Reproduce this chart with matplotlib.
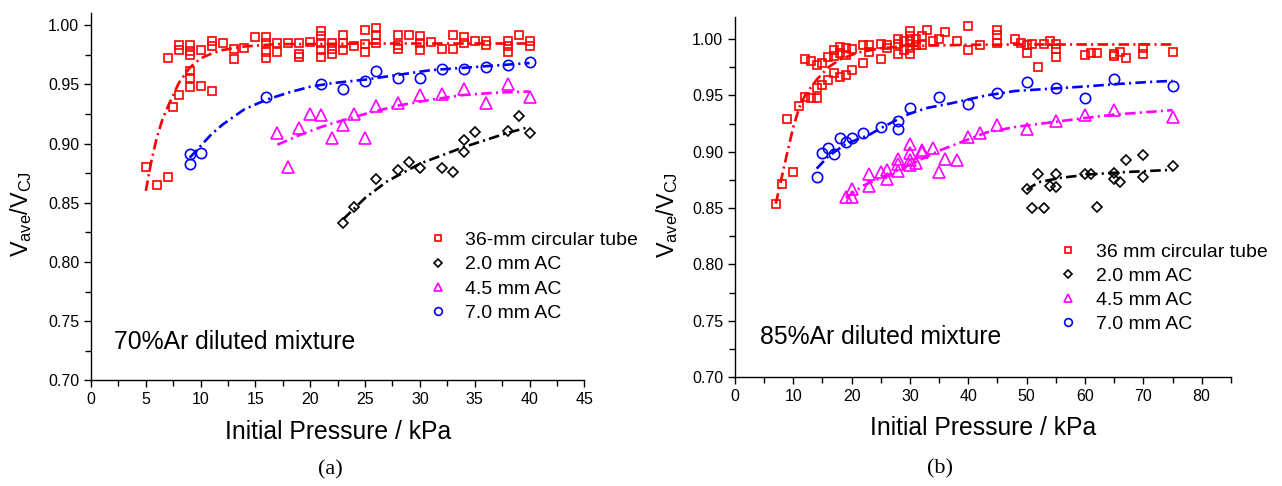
import matplotlib
matplotlib.use("Agg")
import matplotlib.pyplot as plt
from matplotlib.ticker import MultipleLocator

plt.rcParams['font.family'] = ['Liberation Sans', 'DejaVu Sans']
plt.rcParams['mathtext.fontset'] = 'custom'
plt.rcParams['mathtext.rm'] = 'Liberation Sans'
plt.rcParams['mathtext.it'] = 'Liberation Sans'

# ---- (a) 70% Ar diluted mixture ----
a_tube_p = [5, 6, 7, 7, 7.5, 8, 8, 8,
            9, 9, 9, 9, 9, 9, 10, 10, 11, 11, 11, 12, 13, 13, 14, 15,
            16, 16, 16, 16, 17, 17, 18, 19, 19, 19, 20,
            21, 21, 21, 21, 21, 22, 22, 22, 23, 23, 23, 24, 25, 25, 25,
            26, 26, 26, 28, 28, 28, 29, 30, 30, 30, 31, 32, 33, 33,
            34, 34, 35, 36, 36, 38, 38, 38, 39, 40, 40]
a_tube_v = [0.880, 0.865, 0.872, 0.972, 0.931, 0.941, 0.983, 0.979,
            0.983, 0.978, 0.975, 0.961, 0.955, 0.948, 0.979, 0.949,
            0.987, 0.982, 0.944, 0.985, 0.980, 0.971, 0.981, 0.990,
            0.990, 0.985, 0.977, 0.972, 0.985, 0.977, 0.985, 0.985, 0.976, 0.973, 0.986,
            0.995, 0.991, 0.985, 0.979, 0.973, 0.985, 0.980, 0.976,
            0.992, 0.985, 0.979, 0.982, 0.996, 0.984, 0.977,
            0.998, 0.992, 0.985, 0.992, 0.983, 0.980, 0.992, 0.991, 0.985, 0.979,
            0.986, 0.980, 0.992, 0.980, 0.990, 0.985, 0.987, 0.987, 0.983,
            0.987, 0.982, 0.977, 0.992, 0.987, 0.982]
a_ac20_p = [23, 24, 26, 28, 29, 30, 32, 33, 34, 34, 35, 38, 39, 40]
a_ac20_v = [0.833, 0.846, 0.870, 0.878, 0.8845, 0.879, 0.879, 0.8756,
            0.903, 0.893, 0.910, 0.911, 0.923, 0.909]
a_ac45_p = [17, 18, 19, 20, 21, 22, 23, 24, 25, 26, 28, 30, 32, 34, 36, 38, 40]
a_ac45_v = [0.909, 0.880, 0.913, 0.925, 0.924, 0.905, 0.9155, 0.925, 0.905,
            0.932, 0.934, 0.941, 0.942, 0.946, 0.934, 0.950, 0.939]
a_ac70_p = [9, 9, 10, 16, 21, 23, 25, 26, 28, 30, 32, 34, 36, 38, 40]
a_ac70_v = [0.891, 0.883, 0.892, 0.939, 0.950, 0.946, 0.953, 0.961,
            0.955, 0.955, 0.963, 0.963, 0.965, 0.966, 0.969]

# fitted curves
a_tube_fit_p = [5, 5.5, 6, 6.5, 7, 7.5, 8, 9, 10, 11, 12, 14, 17, 20, 25, 30, 40]
a_tube_fit_v = [0.860, 0.885, 0.905, 0.920, 0.931, 0.941, 0.951, 0.964, 0.972,
                0.976, 0.979, 0.982, 0.984, 0.984, 0.9845, 0.9845, 0.9845]
a_ac20_fit_p = [23, 25, 27, 30, 34, 38, 40]
a_ac20_fit_v = [0.836, 0.854, 0.868, 0.883, 0.897, 0.909, 0.914]
a_ac45_fit_p = [17, 19, 21, 22, 25, 28, 31, 34, 37, 40]
a_ac45_fit_v = [0.899, 0.907, 0.914, 0.917, 0.925, 0.932, 0.937, 0.941, 0.943, 0.944]
a_ac70_fit_p = [9, 10, 11, 12, 14, 16, 18, 20, 22, 25, 28, 31, 34, 37, 40]
a_ac70_fit_v = [0.888, 0.898, 0.908, 0.916, 0.929, 0.937, 0.943, 0.948, 0.951,
                0.954, 0.958, 0.962, 0.964, 0.966, 0.968]

# ---- (b) 85% Ar diluted mixture ----
b_tube_p = [7, 8, 9, 10, 11, 12, 12, 13, 13, 14, 14, 14, 15, 15, 16, 16,
            17, 17, 17, 18, 18, 18, 19, 19, 19, 20, 20, 22, 22, 23, 23,
            25, 25, 26, 26, 28, 28, 28, 29, 29, 30, 30, 30, 30, 30,
            31, 31, 32, 32, 33, 34, 35, 36, 38, 40, 40, 42, 45, 45, 45,
            48, 49, 50, 50, 51, 52, 53, 54, 55, 55, 55, 60, 61, 62,
            65, 65, 66, 67, 70, 70, 75]
b_tube_v = [0.854, 0.871, 0.929, 0.882, 0.941, 0.949, 0.9825, 0.948, 0.981,
            0.948, 0.977, 0.957, 0.979, 0.959, 0.984, 0.964,
            0.990, 0.985, 0.970, 0.993, 0.988, 0.966, 0.992, 0.986, 0.968,
            0.991, 0.973, 0.995, 0.979, 0.995, 0.989,
            0.996, 0.982, 0.995, 0.992, 1.000, 0.996, 0.987, 0.998, 0.990,
            1.007, 1.003, 0.998, 0.992, 0.987,
            1.000, 0.995, 1.003, 0.995, 1.008, 0.998, 1.000, 1.0065, 0.998,
            1.012, 0.990, 0.995, 1.008, 1.004, 0.997,
            1.000, 0.997, 0.995, 0.988, 0.996, 0.975, 0.996, 0.998,
            0.996, 0.991, 0.984, 0.986, 0.988, 0.988,
            0.987, 0.985, 0.989, 0.983, 0.992, 0.987, 0.989]
b_ac20_p = [50, 51, 52, 53, 54, 55, 55, 60, 61, 62, 65, 65, 66, 67, 70, 70, 75]
b_ac20_v = [0.867, 0.850, 0.880, 0.850, 0.870, 0.880, 0.869, 0.880, 0.880,
            0.851, 0.881, 0.876, 0.873, 0.893, 0.897, 0.878, 0.887]
b_ac45_p = [19, 20, 20, 23, 23, 25, 26, 26, 28, 28, 28, 30, 30, 30, 30,
            31, 32, 32, 34, 35, 36, 38, 40, 42, 45, 50, 55, 60, 65, 75]
b_ac45_v = [0.860, 0.867, 0.860, 0.870, 0.880, 0.882, 0.876, 0.884,
            0.883, 0.889, 0.894, 0.888, 0.893, 0.8985, 0.907,
            0.890, 0.902, 0.900, 0.903, 0.882, 0.894, 0.893, 0.913, 0.917,
            0.924, 0.920, 0.927, 0.9325, 0.937, 0.931]
b_ac70_p = [14, 15, 16, 17, 18, 19, 20, 22, 25, 28, 28, 30, 35, 40, 45,
            50, 55, 60, 65, 75]
b_ac70_v = [0.878, 0.8985, 0.903, 0.898, 0.912, 0.909, 0.912, 0.917, 0.922,
            0.9275, 0.920, 0.939, 0.949, 0.942, 0.952, 0.962, 0.957, 0.948,
            0.965, 0.958]

b_tube_fit_p = [7, 8, 9, 10, 11, 12, 14, 16, 18, 21, 25, 30, 40, 50, 60, 75]
b_tube_fit_v = [0.854, 0.877, 0.900, 0.922, 0.939, 0.950, 0.964, 0.975, 0.982,
                0.988, 0.992, 0.994, 0.995, 0.9953, 0.9953, 0.9953]
b_ac20_fit_p = [50, 52, 56, 61, 67, 75]
b_ac20_fit_v = [0.866, 0.873, 0.877, 0.880, 0.882, 0.884]
b_ac45_fit_p = [19, 22, 26, 31, 35, 40, 43, 48, 54, 60, 65, 70, 75]
b_ac45_fit_v = [0.859, 0.870, 0.879, 0.891, 0.901, 0.911, 0.917, 0.922,
                0.926, 0.930, 0.933, 0.935, 0.937]
b_ac70_fit_p = [14, 16, 19, 23, 25, 28, 30, 33, 37, 43, 48, 54, 60, 65, 71, 75]
b_ac70_fit_v = [0.885, 0.896, 0.907, 0.915, 0.921, 0.929, 0.934, 0.939, 0.943,
                0.950, 0.954, 0.956, 0.958, 0.960, 0.962, 0.963]

RED, BLACK, MAG, BLUE = '#FF0000', '#000000', '#FF00FF', '#0000FF'
DASHES = (4, 1.6, 0.8, 1.6)


def draw_panel(ax, series, fits, labels, xmax, xmajor, ymax, note, note_xy, ylab_xy):
    styles = [(RED, 's', 6.3), (BLACK, 'D', 5.6), (MAG, '^', 8.0), (BLUE, 'o', 7.4)]
    for (p, v), (c, m, ms), lab in zip(series, styles, labels):
        ax.plot(p, v, ls='none', marker=m, ms=ms, mfc='none', mec=c, mew=1.2,
                label=lab, clip_on=False)
    for (p, v), (c, m, ms) in zip(fits, styles):
        ax.plot(p, v, color=c, lw=1.9, dashes=DASHES)

    ax.set_xlim(0, xmax)
    ax.set_ylim(0.70, ymax)
    ax.xaxis.set_major_locator(MultipleLocator(xmajor))
    ax.xaxis.set_minor_locator(MultipleLocator(xmajor / 2))
    ax.yaxis.set_major_locator(MultipleLocator(0.05))
    ax.yaxis.set_minor_locator(MultipleLocator(0.025))
    ax.yaxis.set_major_formatter(plt.FormatStrFormatter('%.2f'))
    for s in ['top', 'right']:
        ax.spines[s].set_visible(False)
    for s in ['left', 'bottom']:
        ax.spines[s].set_linewidth(1.0)
    ax.tick_params(which='major', direction='out', length=5, width=1.0, labelsize=11.5)
    ax.tick_params(which='minor', direction='out', length=4, width=1.0)

    ax.set_xlabel('Initial Pressure / kPa', fontsize=17.8, labelpad=9)
    ax.set_ylabel(r'$\mathregular{V_{ave}/V_{CJ}}$', fontsize=16.8)
    ax.yaxis.set_label_coords(*ylab_xy)
    ax.text(note_xy[0], note_xy[1], note, fontsize=17.8, va='center', ha='left')


fig = plt.figure(figsize=(12.82, 4.86), dpi=100)
ax1 = fig.add_axes([0.0710, 0.2175, 0.3848, 0.7551])
ax2 = fig.add_axes([0.5733, 0.2243, 0.3868, 0.7414])

draw_panel(ax1,
           [(a_tube_p, a_tube_v), (a_ac20_p, a_ac20_v), (a_ac45_p, a_ac45_v), (a_ac70_p, a_ac70_v)],
           [(a_tube_fit_p, a_tube_fit_v), (a_ac20_fit_p, a_ac20_fit_v),
            (a_ac45_fit_p, a_ac45_fit_v), (a_ac70_fit_p, a_ac70_fit_v)],
           ['36-mm circular tube', '2.0 mm AC', '4.5 mm AC', '7.0 mm AC'],
           45, 5, 1.01, '70%Ar diluted mixture', (2.1, 0.732), (-0.1155, 0.453))
draw_panel(ax2,
           [(b_tube_p, b_tube_v), (b_ac20_p, b_ac20_v), (b_ac45_p, b_ac45_v), (b_ac70_p, b_ac70_v)],
           [(b_tube_fit_p, b_tube_fit_v), (b_ac20_fit_p, b_ac20_fit_v),
            (b_ac45_fit_p, b_ac45_fit_v), (b_ac70_fit_p, b_ac70_fit_v)],
           ['36 mm circular tube', '2.0 mm AC', '4.5 mm AC', '7.0 mm AC'],
           85, 10, 1.02, '85%Ar diluted mixture', (4.3, 0.7355), (-0.111, 0.45))

leg_kw = dict(bbox_transform=fig.transFigure, frameon=False, fontsize=14,
              markerscale=0.75, handlelength=1.2, handletextpad=0.83,
              labelspacing=0.34, borderpad=0, borderaxespad=0, loc='upper left')
ax1.legend(bbox_to_anchor=(426 / 1282, 1 - 231.5 / 486), **leg_kw)
ax2.legend(bbox_to_anchor=(1056.6 / 1282, 1 - 243 / 486), **leg_kw)

fig.text(330 / 1282, 1 - 470 / 486, '(a)', fontsize=16, ha='center', va='center',
         family=['Liberation Serif', 'DejaVu Serif'])
fig.text(940 / 1282, 1 - 469 / 486, '(b)', fontsize=16, ha='center', va='center',
         family=['Liberation Serif', 'DejaVu Serif'])

fig.savefig('out.png', dpi=100)
